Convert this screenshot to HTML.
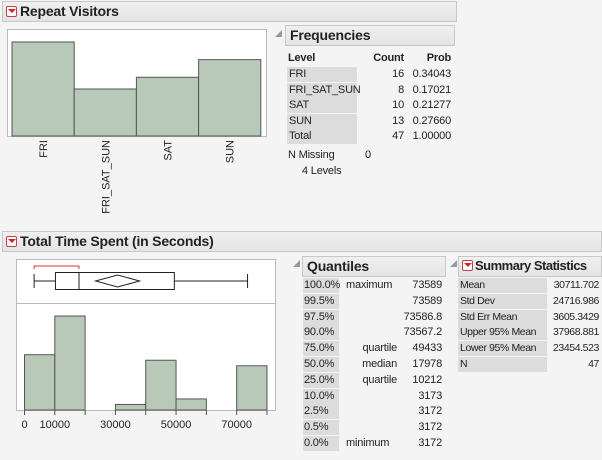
<!DOCTYPE html>
<html><head><meta charset="utf-8"><style>
body{margin:0;width:602px;height:460px;background:#f4f4f4;font-family:"Liberation Sans",sans-serif;position:relative;overflow:hidden;color:#222}
.abs{position:absolute}
.hdr{position:absolute;background:linear-gradient(#f0f0f0,#e4e4e4);border:1px solid #c8c8c8;font-weight:bold;font-size:14px;line-height:18px;box-sizing:border-box;white-space:nowrap;overflow:hidden;letter-spacing:-0.2px}
.arrow{display:inline-block;width:11px;height:11px;background:#fff;border:1px solid #b44;border-radius:2px;margin:0 3px 0 3px;position:relative;top:1px;box-sizing:border-box}
.arrow:after{content:"";position:absolute;left:1px;top:2px;border-left:4px solid transparent;border-right:4px solid transparent;border-top:4px solid #d22}
.tri{position:absolute;width:0;height:0;border-left:7px solid transparent;border-bottom:7px solid #999}
.t{position:absolute;font-size:11px;line-height:15px;white-space:nowrap;letter-spacing:-0.2px}
.g{position:absolute;background:#dcdcdc}
</style></head><body>
<div class="hdr" style="left:2px;top:1px;width:455px;height:21px"><span class="arrow"></span>Repeat Visitors</div>
<svg class="abs" id="bar" style="left:0;top:0" width="280" height="225"></svg>

<div class="tri" style="left:275px;top:30px"></div>
<div class="hdr" style="left:285px;top:25px;width:170px;height:21px;padding-left:4px">Frequencies</div>
<div id="freq"></div>

<div class="hdr" style="left:2px;top:231px;width:600px;height:21px"><span class="arrow"></span>Total Time Spent (in Seconds)</div>
<svg class="abs" id="hist" style="left:0;top:0" width="290" height="460"></svg>

<div class="tri" style="left:293px;top:260px"></div>
<div class="hdr" style="left:302px;top:256px;width:144px;height:21px;padding-left:4px">Quantiles</div>
<div id="quant"></div>

<div class="tri" style="left:450px;top:260px"></div>
<div class="hdr" style="left:458px;top:256px;width:144px;height:21px;font-size:13px;letter-spacing:-0.5px"><span class="arrow" style="margin-right:2px"></span>Summary Statistics</div>
<div id="summ"></div>

<script>
const levels=["FRI","FRI_SAT_SUN","SAT","SUN"];
const counts=[16,8,10,13];
const probs=["0.34043","0.17021","0.21277","0.27660"];
const binStarts=[0,10000,30000,40000,50000,70000];
const binCounts=[10,17,1,9,2,8];
const xTicks=[0,10000,30000,50000,70000];
const boxStats=[3172,10212,17978,49433,73589];
const meanCI=[23454.523,30711.702,37968.881];
const shortestHalf=[3172,17978];
const qPct=["100.0%","99.5%","97.5%","90.0%","75.0%","50.0%","25.0%","10.0%","2.5%","0.5%","0.0%"];
const qName=["maximum","","","","quartile","median","quartile","","","","minimum"];
const qVal=["73589","73589","73586.8","73567.2","49433","17978","10212","3173","3172","3172","3172"];
const sNames=["Mean","Std Dev","Std Err Mean","Upper 95% Mean","Lower 95% Mean","N"];
const sVals=["30711.702","24716.986","3605.3429","37968.881","23454.523","47"];

const NS="http://www.w3.org/2000/svg";
function mk(p,tag,a){const e=document.createElementNS(NS,tag);for(const k in a)e.setAttribute(k,a[k]);p.appendChild(e);return e;}
function div(cls,style,txt){const d=document.createElement('div');d.className=cls;d.style.cssText=style;if(txt!==undefined)d.textContent=txt;document.body.appendChild(d);return d;}

const bs=document.getElementById('bar');
let fr=mk(bs,'rect',{x:7.5,y:29.5,width:259,height:107,fill:'#fff',stroke:'#bbb'});

const bx0=12,bw=62.2,by0=136,byScale=94/16;
levels.forEach((l,i)=>{
  const h=counts[i]*byScale;
  const r=mk(bs,'rect',{x:bx0+i*bw,y:by0-h,width:bw,height:h,fill:'#b8c9b8',stroke:'#555','stroke-width':1});
  
  
  const cx=bx0+i*bw+bw/2+4;
  const t=mk(bs,'text',{x:0,y:0,transform:`translate(${cx},140) rotate(-90)`,'text-anchor':'end','font-size':11,'font-family':'Liberation Sans',fill:'#222'});
  t.textContent=l;
  
  
});

div('t','left:288px;top:51px;font-weight:bold','Level');
div('t','left:340px;top:51px;width:64px;text-align:right;font-weight:bold','Count');
div('t','left:405px;top:51px;width:46px;text-align:right;font-weight:bold','Prob');
const rows=levels.concat(["Total"]);
const rc=counts.concat([47]);const rp=probs.concat(["1.00000"]);
rows.forEach((l,i)=>{
  const y=67+i*15.6;
  div('g',`left:287px;top:${y}px;width:70px;height:15px`);
  div('t',`left:289px;top:${y}px`,l);
  div('t',`left:340px;top:${y}px;width:64px;text-align:right`,String(rc[i]));
  div('t',`left:405px;top:${y}px;width:46px;text-align:right`,rp[i]);
});
div('t','left:288px;top:148px','N Missing');
div('t','left:365px;top:148px','0');
div('t','left:302px;top:164px','4  Levels');

const hs=document.getElementById('hist');
fr=mk(hs,'rect',{x:16.5,y:259.5,width:259,height:151,fill:'#fff',stroke:'#bbb'});

mk(hs,'line',{x1:17,x2:275,y1:303.5,y2:303.5,stroke:'#bbb'});
const X=v=>24.5+v*0.003031;
const hy0=410,hScale=94/17;
binStarts.forEach((b,i)=>{
  const h=binCounts[i]*hScale;
  const r=mk(hs,'rect',{x:X(b),y:hy0-h,width:X(b+10000)-X(b),height:h,fill:'#b8c9b8',stroke:'#555'});
  
  
});
for(let v=0;v<=80000;v+=10000){mk(hs,'line',{x1:X(v),x2:X(v),y1:410,y2:415,stroke:'#555'});}
xTicks.forEach(v=>{
  const t=mk(hs,'text',{x:X(v),y:428,'text-anchor':'middle','font-size':11,'font-family':'Liberation Sans',fill:'#222'});
  t.textContent=String(v);
  
  
});
const cy=281;
const [mn,q1,md,q3,mx]=boxStats.map(X);
mk(hs,'line',{x1:mn,x2:q1,y1:cy,y2:cy,stroke:'#222'});
mk(hs,'line',{x1:q3,x2:mx,y1:cy,y2:cy,stroke:'#222'});
mk(hs,'line',{x1:mn,x2:mn,y1:cy-7,y2:cy+7,stroke:'#222'});
mk(hs,'line',{x1:mx,x2:mx,y1:cy-7,y2:cy+7,stroke:'#222'});
const box=mk(hs,'rect',{x:q1,y:cy-8.5,width:q3-q1,height:17,fill:'none',stroke:'#222'});


mk(hs,'line',{x1:md,x2:md,y1:cy-8.5,y2:cy+8.5,stroke:'#222'});
const d1=X(meanCI[0]),dm=X(meanCI[1]),d2=X(meanCI[2]);
const dia=mk(hs,'polygon',{points:`${d1},${cy} ${dm},${cy-6} ${d2},${cy} ${dm},${cy+6}`,fill:'none',stroke:'#222'});


const s1=X(shortestHalf[0]),s2=X(shortestHalf[1]);
const br=mk(hs,'path',{d:`M${s1},269 V266 H${s2} V269`,fill:'none',stroke:'#d33'});



qPct.forEach((p,i)=>{
  const y=278+i*15.8;
  div('g',`left:303px;top:${y}px;width:36px;height:15px`);
  div('t',`left:304px;top:${y}px`,p);
  const edge=qName[i]==='maximum'||qName[i]==='minimum';
  div('t',`left:340px;top:${y}px;width:57px;text-align:${edge?'left':'right'};${edge?'padding-left:6px;':''}`,qName[i]);
  div('t',`left:395px;top:${y}px;width:47px;text-align:right`,qVal[i]);
});
sNames.forEach((n,i)=>{
  const y=278+i*15.8;
  div('g',`left:458px;top:${y}px;width:89px;height:15px`);
  div('t',`left:460px;top:${y}px;font-size:10.5px;letter-spacing:-0.4px`,n);
  div('t',`left:540px;top:${y}px;width:59px;text-align:right;font-size:10.5px;letter-spacing:-0.4px`,sVals[i]);
});
</script>
</body></html>
